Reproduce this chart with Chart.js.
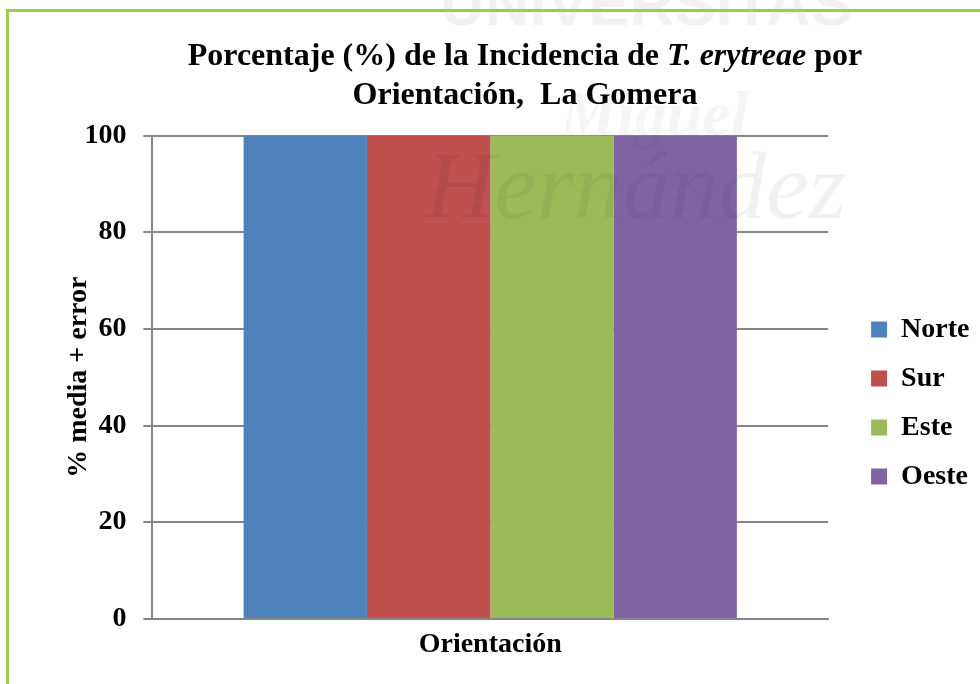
<!DOCTYPE html>
<html>
<head>
<meta charset="utf-8">
<script src="https://cdn.jsdelivr.net/npm/chart.js@4.4.0/dist/chart.umd.min.js"></script>
<style>
  html, body { margin: 0; padding: 0; background: #fff; overflow: hidden; }
  #chartIncidencia { display: block; position: absolute; left: 0; top: 0; }
  #marco {
    position: absolute; left: 6px; top: 9px; right: 0; bottom: 0;
    border-left: 3px solid #92D050; border-top: 3px solid #92D050;
    pointer-events: none;
  }
</style>
</head>
<body>
<canvas id="chartIncidencia" width="980" height="684"></canvas>
<div id="marco"></div>
<script>
// Datos del gráfico
const categorias = ['Orientación'];
const orientaciones = ['Norte', 'Sur', 'Este', 'Oeste'];
const incidencia = [100, 100, 100, 100];
const colores = ['#4F81BD', '#C0504D', '#9BBB59', '#8064A2'];
const ticksY = [0, 20, 40, 60, 80, 100];

const fuente = "'Liberation Serif', 'Times New Roman', serif";

// Marca de agua tenue (fondo de la universidad)
const marcaAgua = {
  id: 'marcaAgua',
  afterDatasetsDraw(chart) {
    const ctx = chart.ctx;
    ctx.save();
    ctx.textAlign = 'left';
    ctx.textBaseline = 'alphabetic';
    ctx.fillStyle = 'rgba(0,0,0,0.055)';
    ctx.font = "italic 96px " + fuente;
    ctx.fillText('Hernández', 425, 218);
    ctx.fillStyle = 'rgba(0,0,0,0.04)';
    ctx.font = "italic bold 64px " + fuente;
    ctx.fillText('Miguel', 560, 135);
    ctx.fillStyle = 'rgba(0,0,0,0.05)';
    ctx.font = "bold 62px 'Liberation Sans', Arial, sans-serif";
    ctx.fillText('UNIVERSITAS', 440, 25);
    ctx.restore();
  }
};

// Título con parte en cursiva (T. erytreae)
const tituloPlugin = {
  id: 'tituloMixto',
  afterDraw(chart) {
    const ctx = chart.ctx;
    const cx = 525;
    const lineas = [
      [['Porcentaje (%) de la Incidencia de ', false], ['T. erytreae', true], [' por', false]],
      [['Orientación,  La Gomera', false]]
    ];
    const ys = [65, 104];
    ctx.save();
    ctx.fillStyle = '#000';
    ctx.textBaseline = 'alphabetic';
    ctx.textAlign = 'left';
    lineas.forEach((partes, i) => {
      let total = 0;
      partes.forEach(p => {
        ctx.font = (p[1] ? 'italic ' : '') + 'bold 32px ' + fuente;
        total += ctx.measureText(p[0]).width;
      });
      let x = cx - total / 2;
      partes.forEach(p => {
        ctx.font = (p[1] ? 'italic ' : '') + 'bold 32px ' + fuente;
        ctx.fillText(p[0], x, ys[i]);
        x += ctx.measureText(p[0]).width;
      });
    });
    ctx.restore();
  }
};

// Separa la leyenda del área del gráfico
const leyendaDesplazada = {
  id: 'leyendaDesplazada',
  afterLayout(chart) {
    chart.legend.left += 22;
    chart.legend.right += 22;
  }
};

const ctx = document.getElementById('chartIncidencia').getContext('2d');
const chart = new Chart(ctx, {
  type: 'bar',
  data: {
    labels: categorias,
    datasets: orientaciones.map((nombre, i) => ({
      label: nombre,
      data: [incidencia[i]],
      backgroundColor: colores[i],
      borderWidth: 0
    }))
  },
  options: {
    responsive: false,
    animation: false,
    layout: { padding: { top: 135.5, left: 56.4, right: 22.5, bottom: 13.5 } },
    datasets: { bar: { barPercentage: 1, categoryPercentage: 0.73 } },
    plugins: {
      title: { display: false },
      tooltip: { enabled: false },
      legend: {
        position: 'right',
        labels: {
          boxWidth: 16, boxHeight: 16, padding: 21,
          color: '#000',
          font: { family: fuente, size: 28, weight: 'bold' }
        }
      }
    },
    scales: {
      x: {
        grid: { display: false, drawTicks: false },
        border: { color: '#868686', width: 2 },
        ticks: {
          color: '#000', padding: 9,
          font: { family: fuente, size: 28, weight: 'bold' }
        }
      },
      y: {
        min: 0, max: 100,
        afterBuildTicks: (axis) => { axis.ticks = ticksY.map(v => ({ value: v })); },
        grid: { color: '#868686', lineWidth: 2, tickLength: 9 },
        border: { color: '#868686', width: 2 },
        ticks: {
          color: '#000', padding: 17,
          font: { family: fuente, size: 28, weight: 'bold' }
        },
        title: {
          display: true, text: '% media + error', color: '#000',
          padding: { top: 8, bottom: -25 },
          font: { family: fuente, size: 28, weight: 'bold', lineHeight: 1 }
        }
      }
    }
  },
  plugins: [marcaAgua, tituloPlugin, leyendaDesplazada]
});
</script>
</body>
</html>
